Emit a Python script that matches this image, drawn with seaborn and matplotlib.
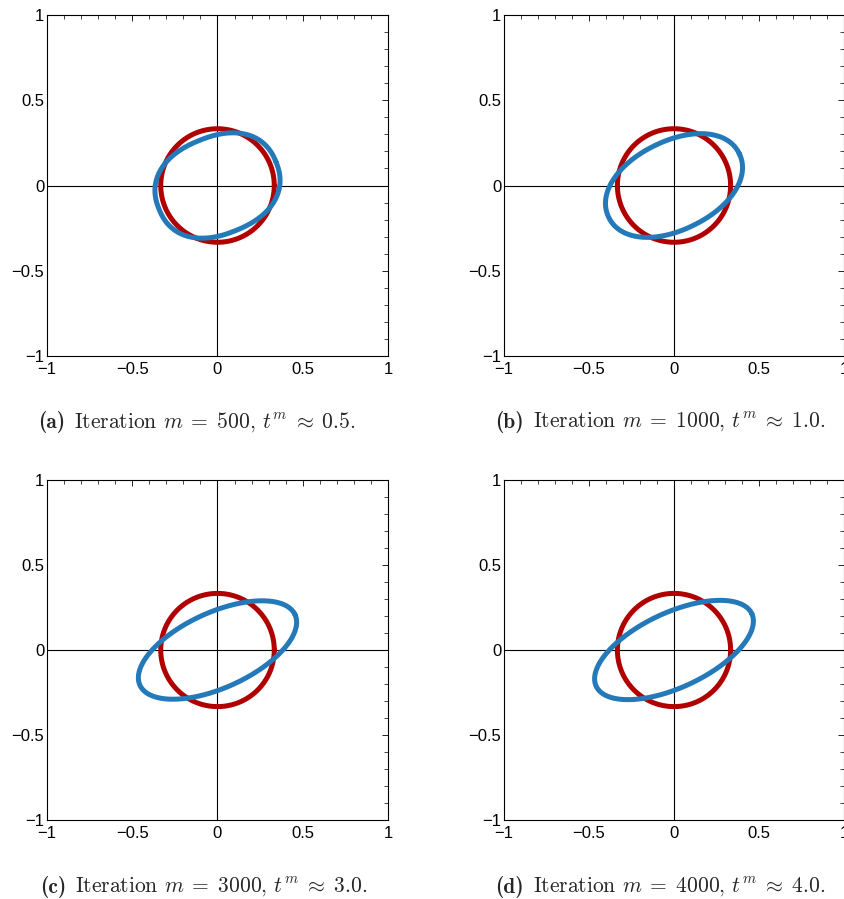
import numpy as np
import pandas as pd
import matplotlib
matplotlib.use("Agg")
import matplotlib.pyplot as plt
import seaborn as sns
from matplotlib.ticker import MultipleLocator, FuncFormatter

# values
panel_tags = ["a", "b", "c", "d"]
iterations = [500, 1000, 3000, 4000]
times = [0.5, 1.0, 3.0, 4.0]
red_radius = [0.333, 0.333, 0.333, 0.333]
blue_semi_major = [0.37, 0.427, 0.50, 0.505]
blue_semi_minor = [0.285, 0.26, 0.222, 0.22]
blue_angle_deg = [22.0, 26.0, 24.5, 25.0]
blue_power = [2.3, 2.1, 2.0, 2.0]
tick_values = [-1, -0.5, 0, 0.5, 1]

RED = "#b00000"
BLUE = "#2479b8"

sns.set_style("white")
plt.rcParams["font.family"] = ["Liberation Sans", "DejaVu Sans"]
plt.rcParams["mathtext.fontset"] = "cm"


def curve(a, b, ang, p, n=721):
    t = np.linspace(0, 2 * np.pi, n)
    c, s = np.cos(t), np.sin(t)
    xr = a * np.sign(c) * np.abs(c) ** (2 / p)
    yr = b * np.sign(s) * np.abs(s) ** (2 / p)
    th = np.deg2rad(ang)
    return pd.DataFrame({"x": xr * np.cos(th) - yr * np.sin(th),
                         "y": xr * np.sin(th) + yr * np.cos(th)})


def fmt(v, pos):
    if abs(v - round(v)) < 1e-9:
        return f"{int(round(v))}".replace("-", "\u2212")
    return f"{v:g}".replace("-", "\u2212")


W, H = 845, 899
fig = plt.figure(figsize=(W / 100, H / 100), dpi=100)
renderer = fig.canvas.get_renderer()

# axes boxes in pixels: left, top, width, height
boxes = [(47, 15, 341, 341), (504, 15, 340, 341),
         (47, 480, 341, 340), (504, 480, 340, 340)]
caption_start = [(38, 422), (495, 422), (40, 887), (495, 887)]

for i, tag in enumerate(panel_tags):
    l, t, w, h = boxes[i]
    ax = fig.add_axes([l / W, 1 - (t + h) / H, w / W, h / H])

    ax.axhline(0, color="black", lw=0.8, zorder=1)
    ax.axvline(0, color="black", lw=0.8, zorder=1)

    red = curve(red_radius[i], red_radius[i], 0, 2)
    blue = curve(blue_semi_major[i], blue_semi_minor[i], blue_angle_deg[i], blue_power[i])
    sns.lineplot(data=red, x="x", y="y", sort=False, estimator=None,
                 color=RED, lw=3.6, ax=ax, zorder=2)
    sns.lineplot(data=blue, x="x", y="y", sort=False, estimator=None,
                 color=BLUE, lw=3.6, ax=ax, zorder=3)

    ax.set_xlim(-1, 1)
    ax.set_ylim(-1, 1)
    ax.set_xlabel("")
    ax.set_ylabel("")
    ax.set_xticks(tick_values)
    ax.set_yticks(tick_values)
    ax.xaxis.set_major_formatter(FuncFormatter(fmt))
    ax.yaxis.set_major_formatter(FuncFormatter(fmt))
    ax.xaxis.set_minor_locator(MultipleLocator(0.1))
    ax.yaxis.set_minor_locator(MultipleLocator(0.1))
    ax.tick_params(which="major", direction="in", length=4, width=0.6,
                   top=True, right=True, labelsize=12, pad=2, colors="black")
    ax.tick_params(axis="x", which="major", pad=4)
    ax.tick_params(which="minor", direction="in", length=3, width=0.6,
                   top=True, right=True, bottom=False, left=False)
    for sp in ax.spines.values():
        sp.set_color("black")
        sp.set_linewidth(0.8)

    # caption: bold tag, then the rest
    cx, cy = caption_start[i]
    lab = fig.text(cx / W, 1 - cy / H, f"({tag})", ha="left", va="center",
                   fontsize=15.5, family="cmb10")
    x1 = lab.get_window_extent(renderer).x1
    rest = (rf"Iteration $m\;=\;{iterations[i]}$, "
            rf"$t^m\;\approx\;{times[i]:.1f}$.")
    fig.text((x1 + 9) / W, 1 - cy / H, rest, ha="left", va="center",
             fontsize=15.5, family="cmr10")

fig.savefig("out.png", dpi=100)
